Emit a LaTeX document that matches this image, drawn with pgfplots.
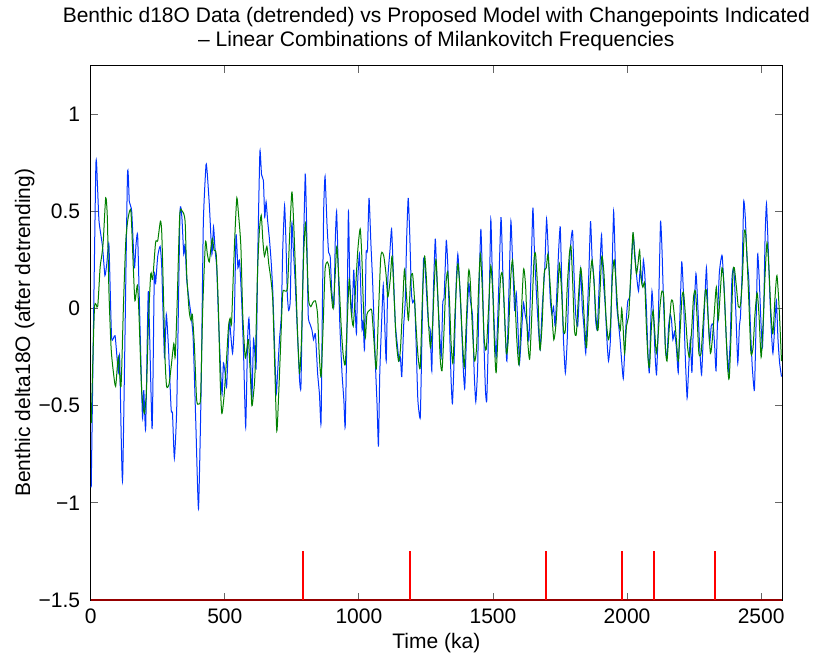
\documentclass[border=0pt]{standalone}
\usepackage{fontspec}
\setmainfont{Liberation Sans}
\usepackage{pgfplots}
\pgfplotsset{compat=1.18}
\definecolor{mblue}{RGB}{0,51,255}
\definecolor{mgreen}{RGB}{0,128,0}
\definecolor{cpred}{RGB}{255,0,0}
\definecolor{cpdark}{RGB}{150,0,0}

\begin{document}
\begin{tikzpicture}
\begin{axis}[
    width=691.3pt, height=534.3pt, scale only axis,
    xmin=0, xmax=2578, ymin=-1.5, ymax=1.25,
    xtick={0,500,1000,1500,2000,2500},
    xticklabels={0,500,1000,1500,2000,2500},
    ytick={-1.5,-1,-0.5,0,0.5,1},
    yticklabels={−1.5,−1,−0.5,0,0.5,1},
    tick align=inside, tick pos=both, major tick length=7pt,
    every tick/.style={black!60, line width=0.8pt},
    axis line style={line width=1pt},
    clip=false,
    ticklabel style={font=\fontsize{21}{25}\selectfont},
    xticklabel style={yshift=-5pt},
    yticklabel style={xshift=-7pt},
    title={Benthic d18O Data (detrended) vs Proposed Model with Changepoints Indicated\\– Linear Combinations of Milankovitch Frequencies},
    title style={align=center, font=\fontsize{21}{24}\selectfont, yshift=5pt},
    xlabel={Time (ka)},
    xlabel style={font=\fontsize{21}{25}\selectfont, at={(axis description cs:0.5,-0.081)}, anchor=center},
    ylabel={Benthic delta18O (after detrending)},
    ylabel style={font=\fontsize{21}{25}\selectfont, at={(axis description cs:-0.0955,0.5)}, anchor=center},
]

% detrended benthic data
\addplot[mblue, line width=1pt, smooth, tension=0.3] coordinates {
(2,-0.92)(19,0.72)(25,0.64)(31,0.45)(44,0.32)(53,0.17)(60,0.23)(68,0.33)(78,-0.15)(91,-0.14)(103,-0.33)(108,-0.25)(119,-0.88)(137,0.68)(144,0.55)(153,0.50)(163,0.21)(169,0.33)(175,0.38)(182,0.01)(193,-0.56)(198,-0.42)(205,-0.62)(215,0.09)(229,-0.62)(237,0.16)(242,0.13)(250,0.27)(259,0.32)(265,0.21)(275,-0.25)(282,-0.03)(290,-0.20)(300,-0.52)(305,-0.54)(312,-0.77)(321,-0.50)(333,0.49)(340,0.47)(347,0.28)(352,0.33)(358,0.15)(368,0.03)(374,-0.03)(382,-0.15)(392,-0.59)(402,-1.03)(412,-0.40)(420,0.44)(430,0.74)(435,0.69)(443,0.52)(452,0.28)(458,0.42)(464,0.30)(470,0.21)(476,-0.03)(485,-0.33)(490,-0.44)(495,-0.28)(501,-0.33)(507,-0.40)(517,-0.07)(522,-0.13)(529,-0.23)(535,-0.09)(542,0.38)(549,0.21)(555,0.25)(563,0.04)(570,-0.23)(578,-0.61)(585,-0.16)(590,-0.05)(595,-0.20)(601,-0.47)(607,-0.16)(612,-0.23)(617,-0.30)(624,0.35)(631,0.81)(637,0.69)(644,0.66)(649,0.47)(654,0.55)(660,0.45)(667,0.35)(673,0.24)(679,0.09)(687,-0.25)(692,-0.44)(697,-0.33)(704,-0.16)(711,-0.03)(716,0.30)(723,0.53)(728,0.35)(733,0.08)(738,-0.01)(744,0.04)(750,0.44)(755,0.32)(762,0.15)(771,-0.13)(779,-0.37)(784,-0.40)(791,0.15)(800,0.69)(805,0.44)(811,-0.03)(818,-0.08)(825,-0.11)(831,-0.16)(838,-0.13)(846,-0.33)(853,-0.44)(859,-0.59)(864,0.01)(869,0.52)(874,0.68)(881,0.44)(887,0.29)(893,0.27)(899,0.09)(907,0.01)(912,0.35)(917,0.50)(922,0.27)(929,-0.08)(937,-0.33)(944,-0.47)(949,-0.61)(955,-0.16)(961,0.50)(966,0.15)(974,-0.03)(981,0.20)(986,0.01)(991,-0.13)(996,0.15)(1002,0.28)(1007,0.11)(1012,-0.11)(1016,-0.06)(1021,-0.21)(1027,0.28)(1032,0.30)(1038,0.57)(1045,0.33)(1051,0.15)(1057,-0.09)(1063,-0.33)(1068,-0.50)(1073,-0.71)(1078,-0.33)(1086,-0.03)(1091,0.12)(1096,-0.06)(1102,-0.27)(1108,0.15)(1116,0.30)(1122,0.41)(1128,0.21)(1136,-0.08)(1143,-0.18)(1150,-0.27)(1155,-0.25)(1160,-0.35)(1167,-0.09)(1173,0.04)(1178,0.35)(1184,0.57)(1190,0.37)(1196,0.08)(1201,0.03)(1208,0.04)(1214,-0.20)(1220,-0.47)(1229,-0.56)(1235,-0.16)(1241,0.25)(1247,0.21)(1254,0.04)(1260,-0.09)(1266,-0.11)(1272,-0.32)(1278,0.09)(1285,0.36)(1291,0.15)(1300,-0.09)(1307,-0.25)(1313,0.03)(1318,0.06)(1326,0.35)(1332,0.21)(1338,-0.09)(1344,-0.37)(1349,-0.49)(1356,-0.23)(1363,0.13)(1369,0.28)(1375,0.15)(1383,-0.09)(1389,-0.30)(1395,-0.41)(1403,-0.06)(1410,0.13)(1416,0.04)(1424,-0.04)(1430,-0.33)(1436,-0.48)(1443,-0.30)(1449,0.15)(1455,0.41)(1461,0.15)(1467,-0.20)(1472,-0.42)(1477,-0.47)(1485,-0.03)(1492,0.46)(1497,0.21)(1505,-0.09)(1512,-0.25)(1520,0.04)(1530,0.47)(1537,0.18)(1545,-0.09)(1552,-0.27)(1560,0.11)(1567,0.45)(1573,0.25)(1581,-0.01)(1587,0.08)(1593,-0.09)(1599,-0.28)(1607,-0.11)(1614,0.03)(1620,-0.03)(1627,-0.08)(1634,-0.16)(1642,0.18)(1649,0.52)(1655,0.28)(1662,0.08)(1669,-0.09)(1676,-0.21)(1684,0.01)(1693,0.20)(1700,0.46)(1707,0.27)(1714,0.04)(1720,-0.03)(1726,0.01)(1732,-0.09)(1739,0.11)(1745,0.30)(1751,0.42)(1757,0.11)(1763,-0.16)(1770,-0.33)(1777,-0.16)(1785,0.21)(1791,0.35)(1797,0.40)(1803,0.15)(1809,-0.04)(1816,-0.09)(1821,0.04)(1827,0.20)(1833,0.01)(1839,-0.09)(1846,-0.23)(1852,-0.03)(1858,0.20)(1864,0.45)(1870,0.25)(1877,0.15)(1883,-0.06)(1889,-0.11)(1895,0.08)(1900,0.25)(1905,0.38)(1911,0.16)(1919,0.01)(1925,-0.16)(1931,-0.27)(1938,-0.16)(1944,0.18)(1950,0.50)(1955,0.30)(1961,0.03)(1967,-0.06)(1974,-0.16)(1980,-0.27)(1986,-0.36)(1991,-0.23)(1997,-0.06)(2003,0.04)(2010,0.06)(2016,0.21)(2023,0.38)(2031,0.25)(2037,0.15)(2043,0.09)(2049,0.20)(2056,0.13)(2061,0.25)(2066,0.18)(2072,0.01)(2078,-0.23)(2083,-0.33)(2088,-0.09)(2093,0.09)(2099,-0.04)(2105,-0.25)(2110,-0.34)(2115,-0.16)(2120,0.15)(2125,0.45)(2130,0.32)(2136,0.04)(2143,-0.20)(2149,-0.25)(2155,-0.09)(2161,-0.03)(2166,-0.06)(2171,-0.16)(2177,-0.12)(2184,-0.20)(2191,-0.33)(2196,-0.09)(2204,0.24)(2210,0.09)(2216,-0.20)(2224,-0.46)(2230,-0.30)(2236,-0.16)(2242,-0.33)(2248,-0.06)(2257,0.18)(2263,0.04)(2271,-0.20)(2278,-0.34)(2286,-0.09)(2296,0.21)(2302,-0.03)(2308,-0.18)(2314,-0.09)(2321,-0.08)(2327,-0.20)(2332,-0.32)(2338,-0.03)(2344,0.18)(2350,0.25)(2355,0.27)(2363,0.08)(2370,-0.15)(2378,-0.32)(2385,-0.16)(2391,0.15)(2398,0.21)(2405,0.01)(2413,-0.28)(2419,-0.09)(2423,-0.04)(2429,0.18)(2435,0.55)(2441,0.47)(2447,0.27)(2454,0.15)(2460,-0.09)(2467,-0.30)(2475,-0.42)(2481,-0.09)(2487,0.28)(2493,0.15)(2500,-0.09)(2505,-0.20)(2510,0.01)(2515,0.38)(2520,0.54)(2526,0.33)(2532,0.09)(2538,-0.11)(2544,-0.23)(2551,-0.09)(2557,0.04)(2563,-0.16)(2569,-0.28)(2576,-0.35)
};

% proposed model
\addplot[mgreen, line width=1pt, smooth, tension=0.4] coordinates {
(2,-0.59)(14,0.00)(26,0.01)(35,0.21)(41,0.27)(47,0.35)(56,0.57)(62,0.47)(68,0.09)(76,-0.20)(84,-0.32)(93,-0.40)(103,-0.25)(113,-0.40)(122,0.01)(131,0.35)(140,0.47)(150,0.50)(159,0.21)(165,0.04)(174,0.12)(180,-0.03)(190,-0.42)(200,-0.54)(208,-0.42)(215,-0.08)(224,0.18)(231,0.15)(242,0.34)(250,0.35)(260,0.45)(265,0.39)(271,0.09)(277,-0.25)(283,-0.40)(292,-0.39)(300,-0.30)(310,-0.18)(315,-0.25)(322,0.01)(332,0.48)(342,0.50)(352,0.45)(358,0.18)(367,-0.01)(374,-0.06)(379,-0.03)(387,-0.20)(395,-0.47)(404,-0.49)(410,-0.45)(418,0.01)(428,0.34)(435,0.28)(442,0.24)(449,0.32)(454,0.36)(460,0.30)(468,0.28)(476,0.01)(483,-0.37)(489,-0.54)(498,-0.44)(507,-0.25)(514,-0.09)(520,-0.05)(525,-0.08)(532,0.18)(539,0.42)(545,0.57)(551,0.49)(560,0.32)(567,-0.03)(576,-0.25)(582,-0.21)(588,-0.16)(595,-0.33)(601,-0.50)(607,-0.44)(613,-0.32)(622,0.18)(629,0.40)(636,0.48)(642,0.35)(648,0.27)(657,0.32)(664,0.23)(672,0.15)(679,0.04)(687,-0.33)(694,-0.63)(701,-0.44)(709,-0.16)(716,0.08)(725,0.09)(734,0.11)(741,0.35)(750,0.60)(756,0.47)(764,0.18)(771,-0.11)(779,-0.33)(786,-0.16)(794,0.27)(801,0.44)(808,0.21)(813,0.04)(821,0.01)(828,0.03)(838,0.04)(846,-0.03)(852,-0.23)(859,-0.35)(867,-0.08)(874,0.20)(882,0.24)(889,0.21)(897,0.08)(904,0.00)(912,0.18)(918,0.32)(927,0.11)(934,-0.09)(941,-0.23)(949,-0.29)(956,-0.09)(964,0.15)(971,-0.01)(979,-0.09)(986,0.06)(996,0.30)(1005,0.41)(1011,0.27)(1017,0.01)(1024,-0.15)(1030,-0.03)(1039,-0.01)(1048,-0.01)(1056,-0.16)(1065,-0.31)(1073,-0.03)(1081,0.25)(1086,0.29)(1093,0.27)(1101,0.18)(1108,0.06)(1117,0.15)(1124,0.27)(1132,0.04)(1139,-0.16)(1148,-0.27)(1155,-0.21)(1163,0.01)(1170,0.20)(1178,0.06)(1185,-0.06)(1193,0.15)(1200,0.18)(1206,0.08)(1214,-0.11)(1221,-0.25)(1229,-0.30)(1237,0.06)(1245,0.27)(1252,0.15)(1260,-0.08)(1267,-0.20)(1275,-0.08)(1282,0.15)(1288,0.25)(1296,0.01)(1303,-0.25)(1310,-0.32)(1317,-0.13)(1324,0.11)(1331,0.19)(1338,0.04)(1344,-0.18)(1351,-0.28)(1358,-0.04)(1366,0.18)(1370,0.23)(1378,0.08)(1385,-0.13)(1393,-0.30)(1400,-0.09)(1409,0.19)(1415,0.15)(1423,-0.09)(1431,-0.27)(1439,-0.20)(1446,0.09)(1453,0.28)(1460,0.11)(1467,-0.15)(1475,-0.21)(1484,0.01)(1492,0.22)(1500,0.06)(1506,-0.20)(1512,-0.33)(1520,-0.09)(1528,0.15)(1535,0.18)(1542,0.01)(1550,-0.23)(1557,-0.16)(1566,0.15)(1573,0.25)(1581,0.08)(1589,-0.16)(1597,-0.29)(1604,-0.09)(1614,0.20)(1622,0.11)(1629,-0.15)(1637,-0.26)(1645,-0.03)(1653,0.25)(1659,0.28)(1667,0.09)(1675,-0.21)(1683,-0.09)(1691,0.18)(1699,0.21)(1705,0.28)(1712,0.15)(1720,-0.03)(1727,-0.16)(1735,-0.08)(1742,0.09)(1748,0.23)(1756,0.09)(1763,-0.11)(1770,-0.11)(1777,0.11)(1785,0.28)(1791,0.32)(1797,0.15)(1804,-0.11)(1811,-0.13)(1818,0.04)(1827,0.21)(1834,0.11)(1842,-0.09)(1849,-0.20)(1857,0.01)(1864,0.18)(1870,0.25)(1878,0.11)(1885,-0.06)(1892,-0.11)(1899,0.08)(1906,0.27)(1914,0.18)(1921,-0.03)(1930,-0.16)(1938,-0.09)(1945,0.15)(1952,0.25)(1960,0.11)(1967,-0.04)(1975,-0.11)(1980,0.00)(1985,-0.09)(1991,-0.23)(1998,-0.09)(2006,-0.04)(2013,0.15)(2022,0.39)(2028,0.28)(2035,0.18)(2041,0.23)(2047,0.30)(2053,0.15)(2059,0.11)(2066,0.13)(2072,-0.09)(2078,-0.25)(2084,-0.30)(2091,-0.09)(2097,-0.01)(2103,-0.11)(2109,-0.23)(2115,-0.16)(2123,0.01)(2130,0.09)(2137,0.06)(2143,-0.20)(2149,-0.27)(2156,-0.13)(2164,0.03)(2170,0.04)(2176,-0.03)(2184,-0.16)(2191,-0.27)(2199,-0.09)(2205,0.06)(2211,0.08)(2219,-0.06)(2226,-0.20)(2233,-0.25)(2241,-0.11)(2248,0.06)(2255,0.09)(2261,-0.04)(2268,-0.23)(2276,-0.23)(2283,-0.09)(2291,0.08)(2296,0.09)(2303,-0.06)(2311,-0.23)(2318,-0.16)(2325,-0.03)(2333,0.11)(2340,-0.06)(2348,0.09)(2354,0.21)(2360,0.15)(2368,-0.09)(2375,-0.30)(2381,-0.36)(2388,-0.13)(2395,0.18)(2400,0.21)(2408,0.11)(2415,0.01)(2423,0.02)(2430,0.15)(2437,0.39)(2442,0.39)(2447,0.28)(2455,0.01)(2462,-0.23)(2470,-0.20)(2477,-0.03)(2485,0.08)(2492,-0.03)(2500,-0.25)(2507,-0.09)(2515,0.18)(2522,0.34)(2529,0.21)(2537,-0.03)(2544,-0.13)(2552,0.06)(2559,0.17)(2567,0.01)(2576,-0.27)
};

% changepoints
\addplot[cpdark, line width=2pt] coordinates {(0,-1.5)(2578,-1.5)};
\addplot[cpred, line width=2pt, unbounded coords=jump] coordinates {
(792,-1.5)(792,-1.25)(792,nan)
(1191,-1.5)(1191,-1.25)(1191,nan)
(1697,-1.5)(1697,-1.25)(1697,nan)
(1980,-1.5)(1980,-1.25)(1980,nan)
(2102,-1.5)(2102,-1.25)(2102,nan)
(2329,-1.5)(2329,-1.25)
};

\coordinate (bl) at (rel axis cs:-0.1312,-0.1048);
\coordinate (tr) at (rel axis cs:1.0477,1.1230);
\end{axis}
\pgfresetboundingbox
\path (bl) rectangle (tr);
\end{tikzpicture}
\end{document}
